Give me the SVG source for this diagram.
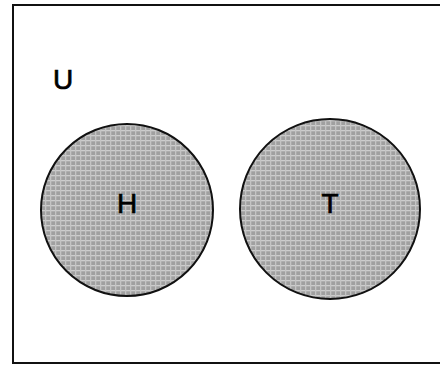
<svg xmlns="http://www.w3.org/2000/svg" width="440" height="365" viewBox="0 0 440 365">
<style>
.frame{fill:#fff;stroke:#111;stroke-width:2}
.set{fill:url(#hatch);stroke:#111;stroke-width:2}
.lbl{font-family:"Liberation Sans",Arial,sans-serif;font-size:28px;fill:#000;stroke:#000;stroke-width:0.7;text-anchor:middle}
</style>
<defs>
<pattern id="hatch" width="5" height="5" patternUnits="userSpaceOnUse">
<rect width="5" height="5" fill="#a0a0a0"/>
<rect x="0" y="0" width="5" height="1.3" fill="#cdcdcd"/>
<rect x="0" y="0" width="1.3" height="5" fill="#c4c4c4"/>
</pattern>
</defs>
<rect width="440" height="365" fill="#fff"/>
<g id="universe">
<rect class="frame" x="13" y="5" width="440" height="358"/>
<text class="lbl" x="63" y="89">U</text>
</g>
<g id="H">
<circle class="set" cx="127" cy="210" r="86"/>
<text class="lbl" x="127" y="213">H</text>
</g>
<g id="T">
<circle class="set" cx="330" cy="209" r="90"/>
<text class="lbl" x="330" y="213">T</text>
</g>
<g id="connectors"></g>
</svg>
